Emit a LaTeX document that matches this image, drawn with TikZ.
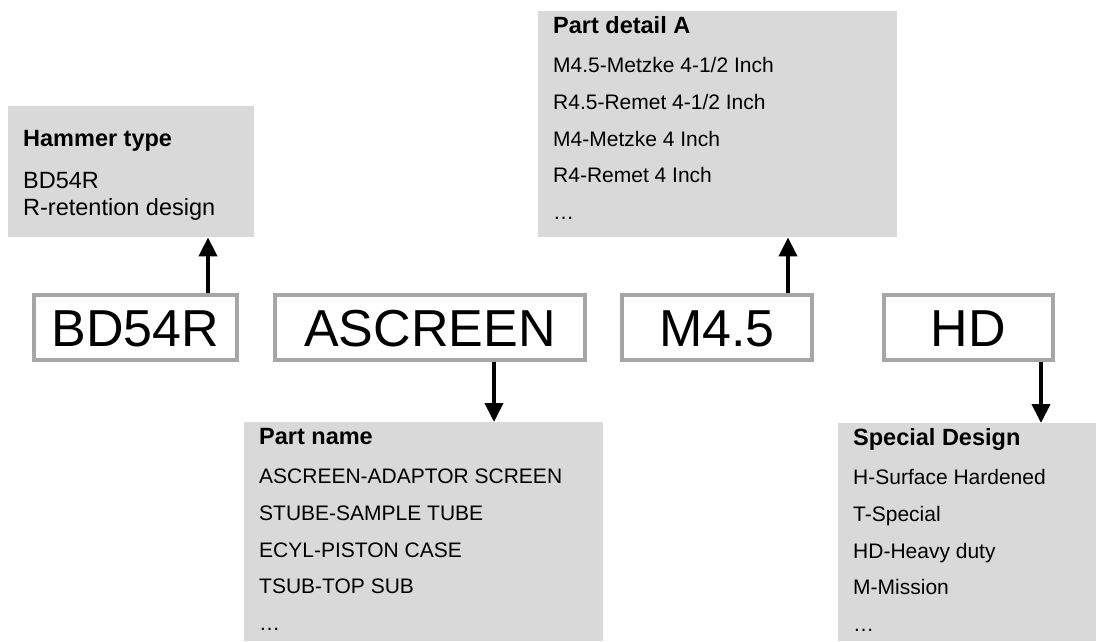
\documentclass[tikz,border=0pt]{standalone}
\usepackage{fontspec}
\setmainfont{Liberation Sans}
\usetikzlibrary{arrows.meta}
\definecolor{boxfill}{HTML}{D9D9D9}
\definecolor{boxline}{HTML}{A6A6A6}
\begin{document}
\begin{tikzpicture}[x=1pt,y=-1pt,
  codebox/.style={draw=boxline, line width=3.5pt, fill=white, inner sep=0pt,
    minimum height=65pt, text height=37pt, text depth=0pt,
    font=\fontsize{52}{60}\selectfont},
  infobox/.style={fill=boxfill, inner sep=0pt, anchor=north west},
  title/.style={anchor=base west, inner sep=0pt, font=\fontsize{23.5}{28}\selectfont\bfseries},
  item/.style={anchor=base west, inner sep=0pt, font=\fontsize{21}{25}\selectfont},
  bigitem/.style={anchor=base west, inner sep=0pt, font=\fontsize{23.5}{28}\selectfont},
  arr/.style={line width=4pt, -{Triangle[width=18pt,length=19pt]}}]
\useasboundingbox (0,0) rectangle (1096,641);

% info boxes
\node[infobox, minimum width=246pt, minimum height=131pt] (ham) at (8,106) {};
\node[infobox, minimum width=359pt, minimum height=226pt] (pd) at (538,11) {};
\node[infobox, minimum width=359pt, minimum height=219pt] (pn) at (244,422) {};
\node[infobox, minimum width=258pt, minimum height=218pt] (sd) at (838,423) {};

% code boxes
\node[codebox, minimum width=203pt] (bd) at (135.5,327.5) {BD54R};
\node[codebox, minimum width=310pt] (asc) at (430,327.5) {ASCREEN};
\node[codebox, minimum width=190pt] (m45) at (717,327.5) {M4.5};
\node[codebox, minimum width=169pt] (hd) at (968.5,327.5) {HD};

% Hammer type
\node[title] (t1) at (23,146) {Hammer type};
\node[bigitem] (h1) at (23,188) {BD54R};
\node[bigitem] (h2) at (23,215) {R-retention design};

% Part detail A
\node[title] (t2) at (553,33) {Part detail A};
\node[item] (p1) at (553,72.5) {M4.5-Metzke 4-1/2 Inch};
\node[item] (p2) at (553,109.3) {R4.5-Remet 4-1/2 Inch};
\node[item] (p3) at (553,146.1) {M4-Metzke 4 Inch};
\node[item] (p4) at (553,182.9) {R4-Remet 4 Inch};
\node[item] (p5) at (553,219.7) {…};

% Part name
\node[title] (t3) at (259,444) {Part name};
\node[item] (n1) at (259,483.5) {ASCREEN-ADAPTOR SCREEN};
\node[item] (n2) at (259,520.3) {STUBE-SAMPLE TUBE};
\node[item] (n3) at (259,557.1) {ECYL-PISTON CASE};
\node[item] (n4) at (259,593.9) {TSUB-TOP SUB};
\node[item] (n5) at (259,630.7) {…};

% Special Design
\node[title] (t4) at (853,445) {Special Design};
\node[item] (s1) at (853,484.5) {H-Surface Hardened};
\node[item] (s2) at (853,521.3) {T-Special};
\node[item] (s3) at (853,558.1) {HD-Heavy duty};
\node[item] (s4) at (853,594.9) {M-Mission};
\node[item] (s5) at (853,631.7) {…};

% arrows
\coordinate (a1) at (208,0);
\coordinate (a2) at (494,0);
\coordinate (a3) at (788,0);
\coordinate (a4) at (1041,0);
\draw[arr] (bd.north -| a1) -- (ham.south -| a1);
\draw[arr] (asc.south -| a2) -- (pn.north -| a2);
\draw[arr] (m45.north -| a3) -- (pd.south -| a3);
\draw[arr] (hd.south -| a4) -- (sd.north -| a4);
\end{tikzpicture}
\end{document}
